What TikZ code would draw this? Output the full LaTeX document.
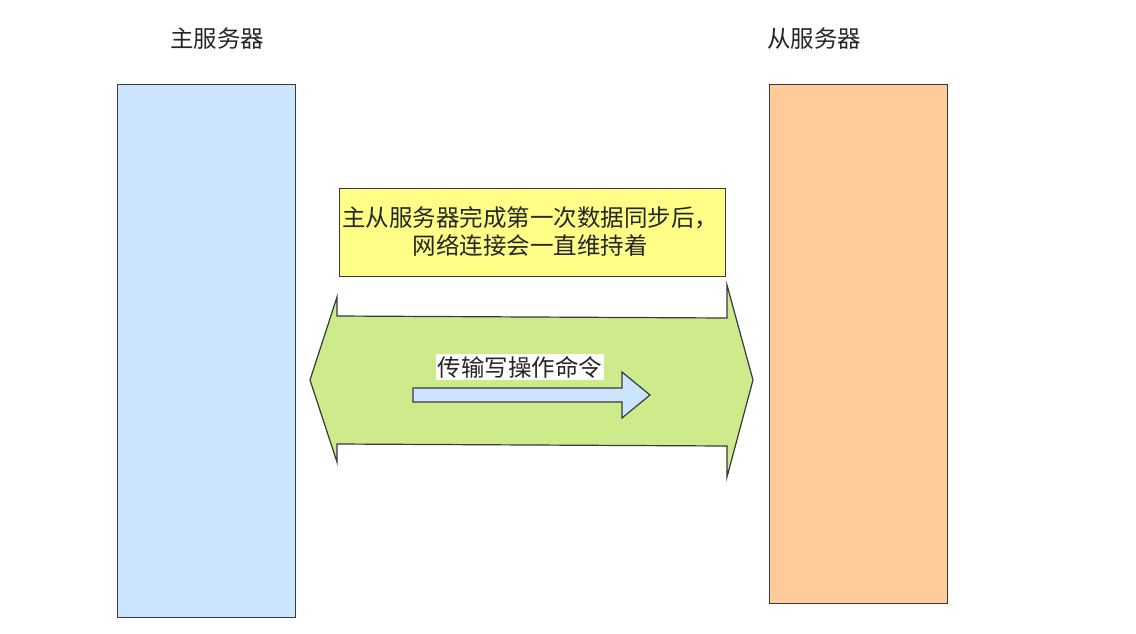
\documentclass[tikz,border=0pt]{standalone}
\usepackage{fontspec}
\setmainfont{Noto Sans CJK SC}
\definecolor{mblue}{HTML}{CCE5FF}
\definecolor{sorange}{HTML}{FFCC99}
\definecolor{nyellow}{HTML}{FFFF88}
\definecolor{agreen}{HTML}{CDEB8B}
\definecolor{edge}{HTML}{36393D}
\begin{document}
\begin{tikzpicture}[x=1pt,y=-1pt,
  server/.style={draw=edge,line width=1.2pt,anchor=north west,inner sep=0pt},
  txt/.style={font=\fontsize{23.5}{28}\selectfont,text=black!85,inner sep=0pt},
  shapeln/.style={draw=edge,line width=1.2pt,line join=miter}]
\useasboundingbox (0,0) rectangle (1136,633);
\node[server,fill=mblue,minimum width=178pt,minimum height=533pt] (master) at (117,84) {};
\node[server,fill=sorange,minimum width=178pt,minimum height=519pt] (slave) at (769,84) {};
\node[txt] (mt) at (217,39) {主服务器};
\node[txt] (st) at (814,39) {从服务器};
\node[server,fill=nyellow,minimum width=386pt,minimum height=88pt] (note) at (339,188) {};
\node[txt,align=center] (notet) at (530,231) {主从服务器完成第一次数据同步后，\\网络连接会一直维持着};
\draw[shapeln,fill=agreen] (310,380) -- (337,297) -- (337,316) -- (727,318) -- (727,285) -- (753,380)
  -- (727,477) -- (727,446) -- (337,444) -- (337,462) -- cycle;
\draw[shapeln,fill=mblue] (413,388) -- (622,388) -- (622,372) -- (650,395) -- (622,418) -- (622,402) -- (413,402) -- cycle;
\node[txt,fill=white,inner sep=2pt] (cmd) at (520,367) {传输写操作命令};
\end{tikzpicture}
\end{document}
